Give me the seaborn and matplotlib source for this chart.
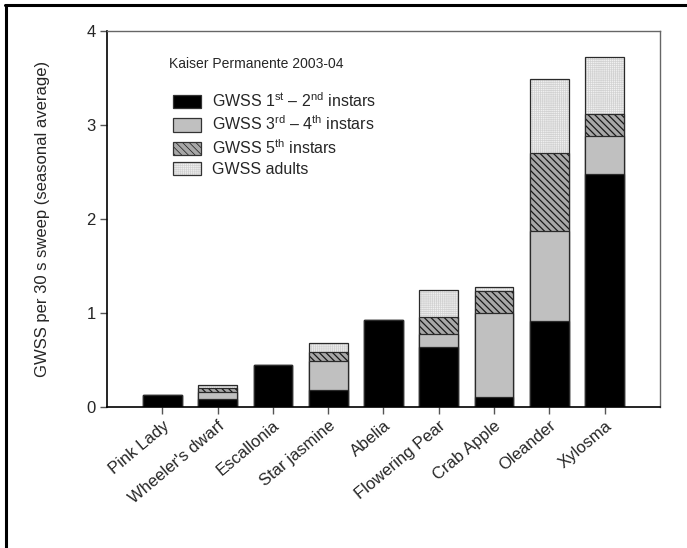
import matplotlib
matplotlib.use("Agg")
import matplotlib.pyplot as plt
from matplotlib.patches import Patch
from matplotlib.lines import Line2D
import pandas as pd
import seaborn as sns

plants = ["Pink Lady", "Wheeler's dwarf", "Escallonia", "Star jasmine", "Abelia",
          "Flowering Pear", "Crab Apple", "Oleander", "Xylosma"]
instars_1_2 = [0.13, 0.085, 0.45, 0.18, 0.93, 0.64, 0.11, 0.91, 2.48]
instars_3_4 = [0.00, 0.07, 0.00, 0.31, 0.00, 0.14, 0.89, 0.96, 0.40]
instars_5 = [0.00, 0.05, 0.00, 0.10, 0.00, 0.18, 0.23, 0.83, 0.24]
adults = [0.00, 0.025, 0.00, 0.09, 0.00, 0.29, 0.05, 0.79, 0.60]

series_labels = ["GWSS 1$^{st}$ \u2013 2$^{nd}$ instars",
                 "GWSS 3$^{rd}$ \u2013 4$^{th}$ instars",
                 "GWSS 5$^{th}$ instars",
                 "GWSS adults"]
legend_title = "Kaiser Permanente 2003-04"
y_label = "GWSS per 30 s sweep (seasonal average)"
y_ticks = [0, 1, 2, 3, 4]

sns.set_theme(style="white")
plt.rcParams["font.family"] = ["Liberation Sans", "DejaVu Sans"]
plt.rcParams["mathtext.fontset"] = "custom"
plt.rcParams["mathtext.rm"] = "Liberation Sans"
plt.rcParams["mathtext.it"] = "Liberation Sans"
plt.rcParams["mathtext.bf"] = "Liberation Sans"

df = pd.DataFrame({"plant": plants,
                   "l12": instars_1_2, "l34": instars_3_4,
                   "l5": instars_5, "ad": adults})
df["c1"] = df["l12"]
df["c2"] = df["c1"] + df["l34"]
df["c3"] = df["c2"] + df["l5"]
df["c4"] = df["c3"] + df["ad"]

fig = plt.figure(figsize=(6.87, 5.48), dpi=100)
ax = fig.add_axes([0.1557, 0.2573, 0.805, 0.686])

# fill styles: (face, hatch, hatch colour, hatch line width)
STYLE_5 = ("#a8a8a8", "\\" * 5, "#1a1a1a", 0.9)
STYLE_AD = ("#f1f1f1", "+" * 8, "#d2d2d2", 0.5)

# (cumulative column, style), top layer first
layers = [("c4", STYLE_AD),
          ("c3", STYLE_5),
          ("c2", ("#c0c0c0", None, None, None)),
          ("c1", ("black", None, None, None))]
width = 0.7
for col, (face, hatch, hcol, hlw) in layers:
    if hatch:
        plt.rcParams["hatch.linewidth"] = hlw
        sns.barplot(data=df, x="plant", y=col, order=plants, color=face,
                    width=width, saturation=1, edgecolor=hcol, linewidth=0,
                    hatch=hatch, ax=ax, errorbar=None)
    else:
        sns.barplot(data=df, x="plant", y=col, order=plants, color=face,
                    width=width, saturation=1, linewidth=0, ax=ax, errorbar=None)
    # outline of each layer
    sns.barplot(data=df, x="plant", y=col, order=plants, fill=False,
                width=width, edgecolor="#2a2a2a", linewidth=0.9, ax=ax,
                errorbar=None)

ax.set_xlim(-1, 9)
ax.set_ylim(0, 4)
ax.set_yticks(y_ticks)
ax.set_yticklabels([str(t) for t in y_ticks], fontsize=12)
ax.set_xlabel("")
ax.set_ylabel(y_label, fontsize=12, labelpad=26)
ax.set_xticks(range(len(plants)))
ax.set_xticklabels(plants, rotation=40, ha="right", rotation_mode="anchor",
                   fontsize=12)
ax.tick_params(axis="both", direction="out", length=5, width=1,
               color="#555555", bottom=True, left=True, pad=3)
for side in ["left", "bottom"]:
    ax.spines[side].set_color("black")
    ax.spines[side].set_linewidth(1.2)
for side in ["top", "right"]:
    ax.spines[side].set_color("#666666")
    ax.spines[side].set_linewidth(1.0)


def legend_swatch(style):
    face, hatch, hcol, hlw = style
    plt.rcParams["hatch.linewidth"] = hlw
    fill = Patch(facecolor=face, edgecolor=hcol, linewidth=0, hatch=hatch)
    return (fill, Patch(facecolor="none", edgecolor="#333333", linewidth=0.9))


handles = [Patch(facecolor="black", edgecolor="#333333", linewidth=0.9),
           Patch(facecolor="#c0c0c0", edgecolor="#333333", linewidth=0.9),
           legend_swatch(STYLE_5),
           legend_swatch(STYLE_AD)]
leg = ax.legend(handles, series_labels, loc="upper left",
                bbox_to_anchor=(0.107, 0.857), frameon=False, fontsize=11.5,
                handlelength=1.8, handleheight=0.95, handletextpad=0.7,
                labelspacing=0.3, borderaxespad=0)
ax.text(0.113, 0.93, legend_title, transform=ax.transAxes, fontsize=10,
        ha="left", va="top")

# frame lines along the top and left of the figure
fig.add_artist(Line2D([5 / 687, 1], [1 - 5 / 548, 1 - 5 / 548],
                      transform=fig.transFigure, color="black", linewidth=2.2))
fig.add_artist(Line2D([6 / 687, 6 / 687], [0, 1 - 5 / 548],
                      transform=fig.transFigure, color="black", linewidth=2.2))

fig.savefig("out.png", dpi=100)
